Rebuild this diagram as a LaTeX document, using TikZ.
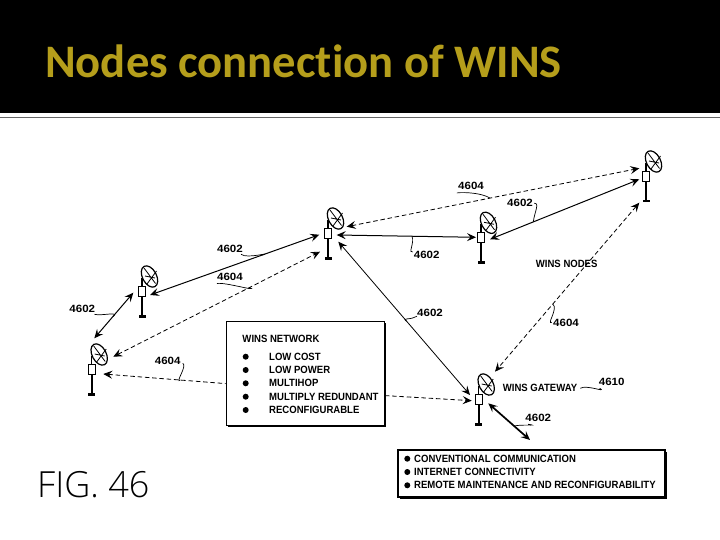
\documentclass[tikz,border=0pt]{standalone}
\usepackage{fontspec}
\setmainfont{Liberation Sans}
\newfontfamily\titlefont[Ligatures=NoCommon]{Carlito}
\newfontfamily\figfont{Open Sans Light}
\usetikzlibrary{arrows.meta,calc}
\definecolor{titlegold}{HTML}{B59E1B}
\tikzset{
  barb/.tip={Stealth[length=9pt,width=8pt,inset=3.5pt]},
  radiobox/.style={draw=black,line width=0.9pt,fill=white,minimum width=6.5pt,minimum height=10pt,inner sep=0pt},
  link/.style={line width=1pt,barb-barb},
  dlink/.style={link,line width=0.8pt,dash pattern=on 4.5pt off 2.8pt},
  dlinkone/.style={line width=0.8pt,dash pattern=on 4.5pt off 2.8pt},
  thicklink/.style={link,line width=1.7pt},
  lead/.style={line width=0.7pt},
  tag/.style={font=\bfseries\fontsize{10.5}{11}\selectfont,inner sep=0pt,xscale=0.91},
  numtag/.style={font=\bfseries\fontsize{10.5}{11}\selectfont,inner sep=0pt,xscale=1.1},
  tagw/.style={tag,anchor=west},
  infobox/.style={draw=black,line width=1.2pt,fill=white,inner sep=0pt},
  dot/.style={circle,fill=black,minimum size=6pt,inner sep=0pt},
  radio/.pic={
    \draw[line width=1.4pt] (0,-5) -- (0,-13);
    \draw[line width=1.6pt] (0,5) -- (0,24);
    \fill (-3.5,24) rectangle (3.5,26.5);
    \draw[line width=1.2pt,fill=white,rotate around={-62:(7.5,-14.5)}] (7.5,-14.5) ellipse [x radius=11.5pt,y radius=7pt];
    \draw[line width=0.8pt] (2,-23) -- (13.5,-7.5) (5,-7) -- (14.5,-20) (3,-15) -- (13,-13);
  }
}
\begin{document}
\begin{tikzpicture}[x=1pt,y=-1pt]
\useasboundingbox (0,0) rectangle (720,540);
\fill[white] (0,0) rectangle (720,540);
\fill[black] (0,0) rectangle (720,113.3);
\fill[black!60] (0,116.6) rectangle (720,117.8);
\node[anchor=base west,inner sep=0pt,text=titlegold,font=\titlefont\bfseries\fontsize{46.6}{47}\selectfont] (title) at (45,78) {Nodes connection of WINS};

% radios
\foreach \n/\x/\y in {a/646/176,b/481/237.3,c/328/233,d/142/291,e/91.7/369,g/478.7/399}{
  \pic at (\x,\y) {radio};
  \node[radiobox] (\n) at (\x,\y) {};
}

% boxes
\fill[black] (228,323) rectangle (386,426.5);
\node[infobox,anchor=north west,minimum width=158pt,minimum height=104pt] (net) at (225.7,320.7) {};
\fill[black] (400,452) rectangle (666.5,498.5);
\node[infobox,anchor=north west,minimum width=267pt,minimum height=47pt] (svc) at (397.3,449.3) {};

% connector ends
\coordinate (d1) at ($(d)+(8,4)$);
\coordinate (c1) at ($(c)+(-8.7,1.7)$);
\coordinate (e2) at ($(e)+(21.6,-12.3)$);
\coordinate (c2) at ($(c)+(-8,18.7)$);
\coordinate (e3) at ($(e)+(2.6,-30.7)$);
\coordinate (d3) at ($(d)+(-8.7,1.7)$);
\coordinate (e4) at ($(e)+(11.6,5)$);
\coordinate (net1) at ($(net.west)+(0,10.3)$);
\coordinate (net2) at ($(net.east)+(0,22.3)$);
\coordinate (g2) at ($(g)+(-7,1.7)$);
\coordinate (c3) at ($(c)+(10.3,8.7)$);
\coordinate (g3) at ($(g)+(-8.7,-4)$);
\coordinate (c4) at ($(c)+(8.7,2)$);
\coordinate (b4) at ($(b)+(-5,0)$);
\coordinate (c5) at ($(c)+(18.7,-6.3)$);
\coordinate (a5) at ($(a)+(-6.7,-7.7)$);
\coordinate (b6) at ($(b)+(9,2)$);
\coordinate (a6) at ($(a)+(-6.7,3.3)$);
\coordinate (a7) at ($(a)+(-6.7,26.7)$);
\coordinate (g7) at ($(g)+(16.3,-27.3)$);
\coordinate (g8) at ($(g)+(9.6,4.3)$);
\coordinate (svc8) at ($(svc.north west)+(132.7,-9.3)$);

% connectors
\draw[link] (d1) -- coordinate[pos=0.66] (m1) (c1);
\draw[dlink] (e2) -- coordinate[pos=0.66] (m2) (c2);
\draw[link] (e3) -- coordinate[pos=0.47] (m3) (d3);
\draw[dlinkone,barb-] (e4) -- coordinate[pos=0.63] (m4) (net1);
\draw[dlinkone,-barb] (net2) -- (g2);
\draw[link,line width=0.8pt] (c3) -- coordinate[pos=0.52] (m5) (g3);
\draw[link] (c4) -- coordinate[pos=0.54] (m6) (b4);
\draw[dlink] (c5) -- coordinate[pos=0.49] (m7) (a5);
\draw[link] (b6) -- coordinate[pos=0.29] (m8) (a6);
\draw[dlink] (a7) -- coordinate[pos=0.6] (m9) (g7);
\draw[thicklink] (g8) -- coordinate[pos=0.62] (m10) (svc8);

% numeric labels
\node[numtag] (l1) at (471,186) {4604};
\node[numtag] (l2) at (520,203.3) {4602};
\node[numtag] (l3) at (426.7,255) {4602};
\node[numtag] (l4) at (230,249.3) {4602};
\node[numtag] (l5) at (230,276.7) {4604};
\node[numtag] (l6) at (82.3,309.3) {4602};
\node[numtag] (l7) at (167.7,361.3) {4604};
\node[numtag] (l8) at (430,313.3) {4602};
\node[numtag] (l9) at (566,323.3) {4604};
\node[numtag] (l10) at (611.7,382.3) {4610};
\node[numtag] (l11) at (538.3,418.3) {4602};
\node[tag] (wn) at (566.7,264) {WINS NODES};
\node[tag] (wg) at (540,388.3) {WINS GATEWAY};

% leaders
\draw[lead] ($(l1.south west)+(-1,3)$) .. controls +(8,-1) and +(-8,-5) .. (m7);
\draw[lead] ($(l2.east)+(1,0)$) .. controls +(6,-1) and +(1,-9) .. (m8);
\draw[lead] (m6) .. controls +(3,6) and +(-5,2) .. ($(l3.west)+(-1,-3)$);
\draw[lead] ($(l4.east)+(-2,5)$) .. controls +(6,5) and +(12,-4) .. (m1);
\draw[lead] ($(l5.south west)+(0,3)$) .. controls +(7,-2) and +(10,5) .. (m2);
\draw[lead] ($(l6.east)+(-1,5)$) .. controls +(7,2) and +(8,-6) .. (m3);
\draw[lead] ($(l7.east)+(2,2)$) .. controls +(5,2) and +(-6,4) .. (m4);
\draw[lead] ($(l8.west)+(0,3)$) .. controls +(-6,4) and +(-6,-4) .. (m5);
\draw[lead] (m9) .. controls +(6,4) and +(-6,3) .. ($(l9.west)+(-1,-1)$);
\draw[lead] ($(wg.east)+(3,0)$) .. controls +(6,-4) and +(8,5) .. ($(l10.south west)+(1,2)$);
\draw[lead] (m10) .. controls +(7,-2) and +(12,2) .. ($(l11.south west)+(3,2)$);

% network box text
\node[tagw] (nh) at (242.3,339.3) {WINS NETWORK};
\foreach \i/\y/\t in {1/356.7/LOW COST,2/370/LOW POWER,3/383.3/MULTIHOP,4/396.7/MULTIPLY REDUNDANT,5/410/RECONFIGURABLE}{
  \node[dot] (nb\i) at (245.7,\y) {};
  \node[tagw] (nt\i) at (269,\y) {\t};
}
% service box text
\foreach \i/\y/\t in {1/458.7/CONVENTIONAL COMMUNICATION,2/472/INTERNET CONNECTIVITY,3/485.3/REMOTE MAINTENANCE AND RECONFIGURABILITY}{
  \node[dot] (sb\i) at (407.3,\y) {};
  \node[tagw] (st\i) at (414,\y) {\t};
}

\node[anchor=base west,inner sep=0pt,font=\figfont\fontsize{36}{36}\selectfont] (fig) at (37,497) {FIG. 46};
\end{tikzpicture}
\end{document}
